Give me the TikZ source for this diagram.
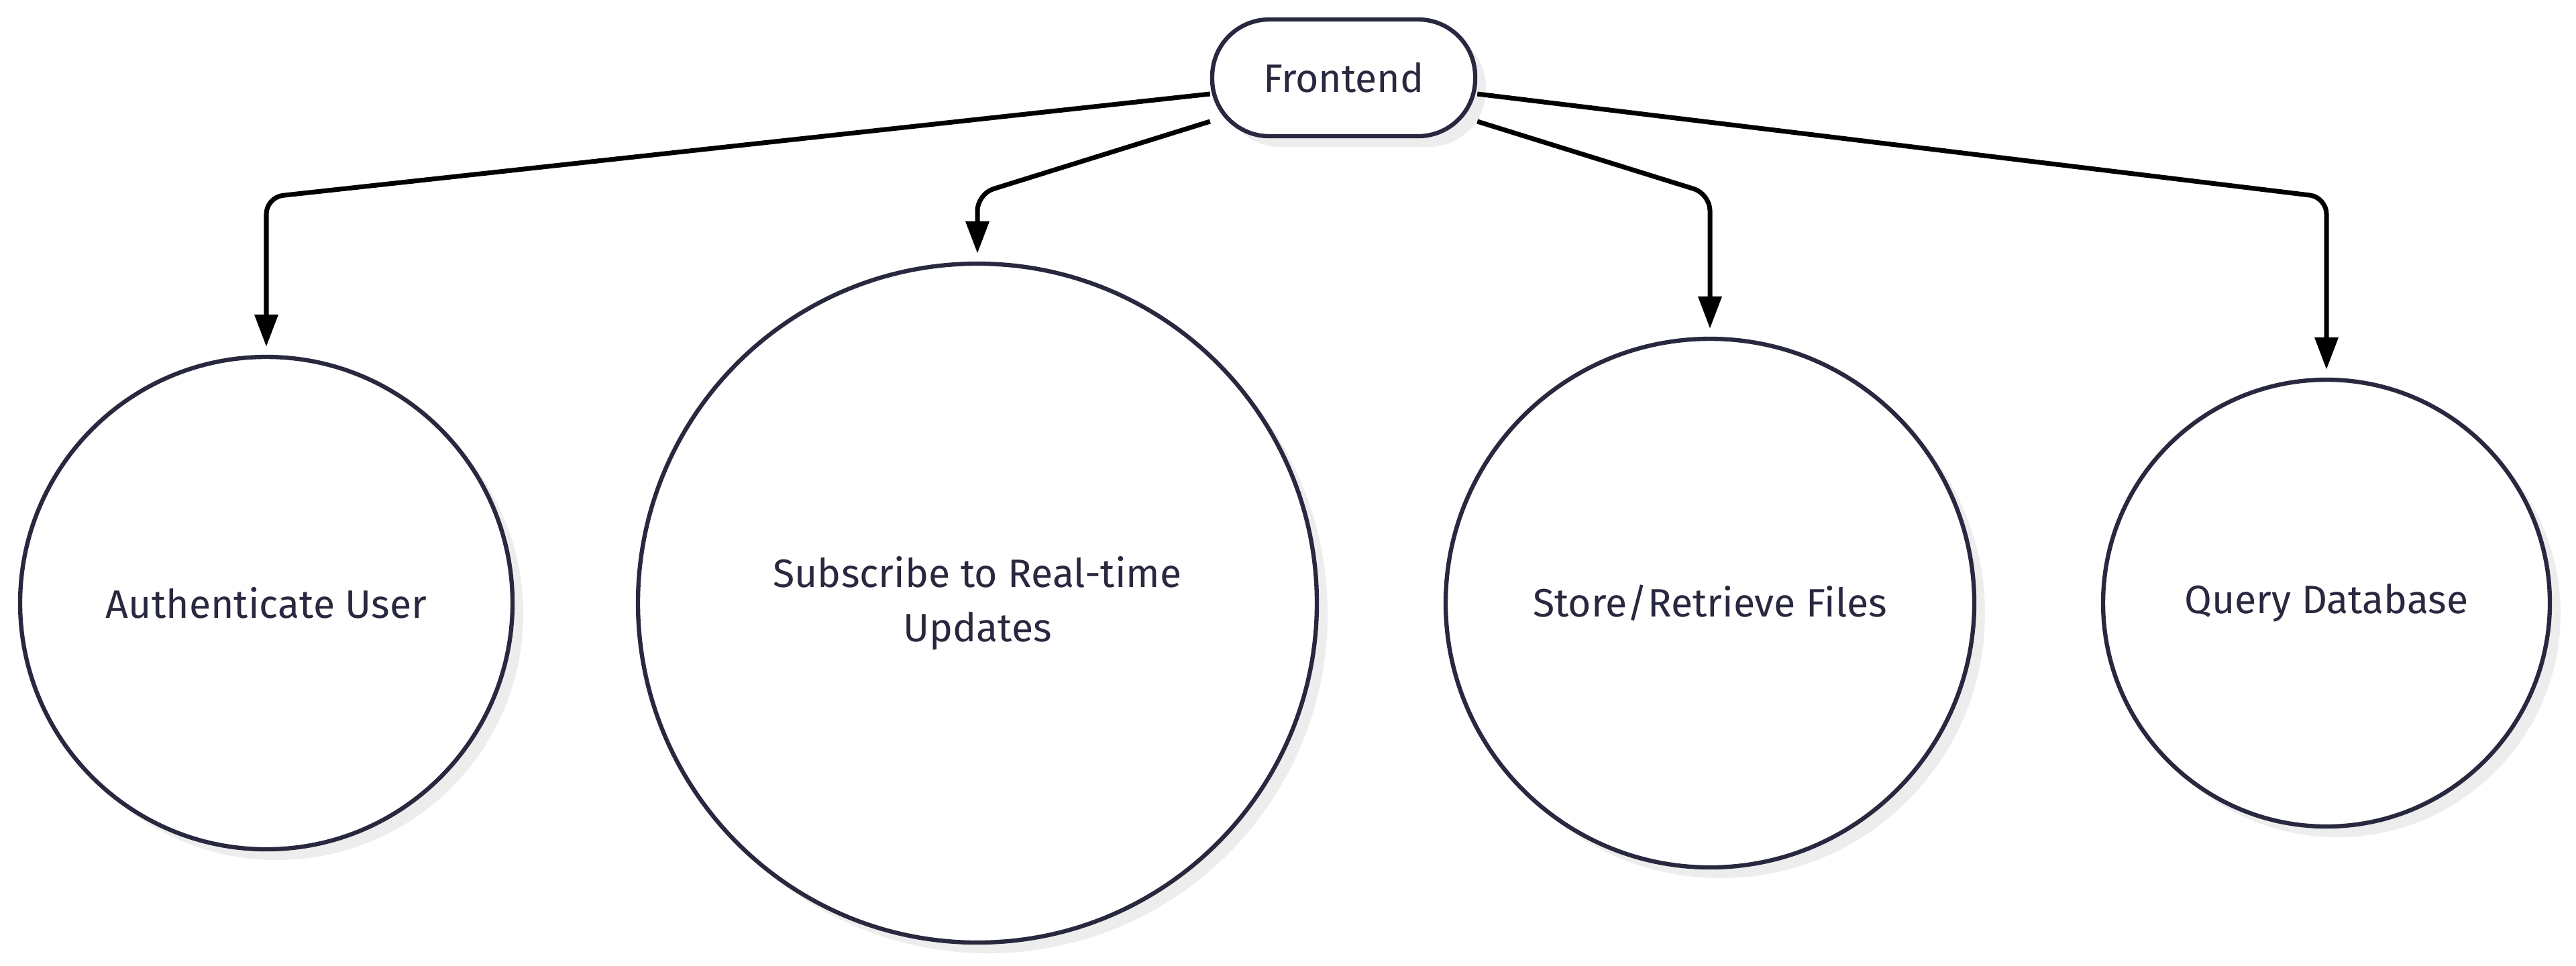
\documentclass[tikz,border=0pt]{standalone}
\usepackage{fontspec}
\setmainfont{Fira Sans}
\usetikzlibrary{arrows.meta,shadows}
\definecolor{ink}{HTML}{28283F}
\begin{document}
\begin{tikzpicture}[
        box/.style = {draw=ink, line width=1.8pt, fill=white, text=ink, font=\fontsize{16.8}{23}\selectfont,
            drop shadow={shadow xshift=1.6mm, shadow yshift=-1.6mm, fill=black!7, opacity=1}},
        task/.style = {box, circle, inner sep=0pt, align=center},
        link/.style = {line width=2pt, rounded corners=2.5mm, -{Triangle[length=4.8mm,width=3.4mm]}, shorten >=1.2mm}
    ]
        \useasboundingbox (0,0) rectangle (38.4,-14.39);
        \node[box, rounded corners=8.5mm, minimum width=3.92cm, minimum height=1.74cm] (fe) at (20.03,-1.16) {Frontend};
        \node[task, minimum size=7.34cm] (auth) at (3.97,-8.99) {Authenticate User};
        \node[task, minimum size=10.12cm] (sub) at (14.57,-8.99) {Subscribe to Real-time\\Updates};
        \node[task, minimum size=7.88cm] (files) at (25.49,-8.99) {Store/Retrieve Files};
        \node[task, minimum size=6.66cm] (db) at (34.68,-8.99) {Query Database};
        \coordinate (kauth) at (3.97,-2.94);
        \coordinate (ksub) at (14.57,-2.89);
        \coordinate (kfiles) at (25.49,-2.89);
        \coordinate (kdb) at (34.68,-2.94);
        \draw[link] ([yshift=-2.4mm]fe.west) -- (kauth) -- (auth);
        \draw[link] ([yshift=-6.5mm]fe.west) -- (ksub) -- (sub);
        \draw[link] ([yshift=-6.5mm]fe.east) -- (kfiles) -- (files);
        \draw[link] ([yshift=-2.4mm]fe.east) -- (kdb) -- (db);
    \end{tikzpicture}
\end{document}
